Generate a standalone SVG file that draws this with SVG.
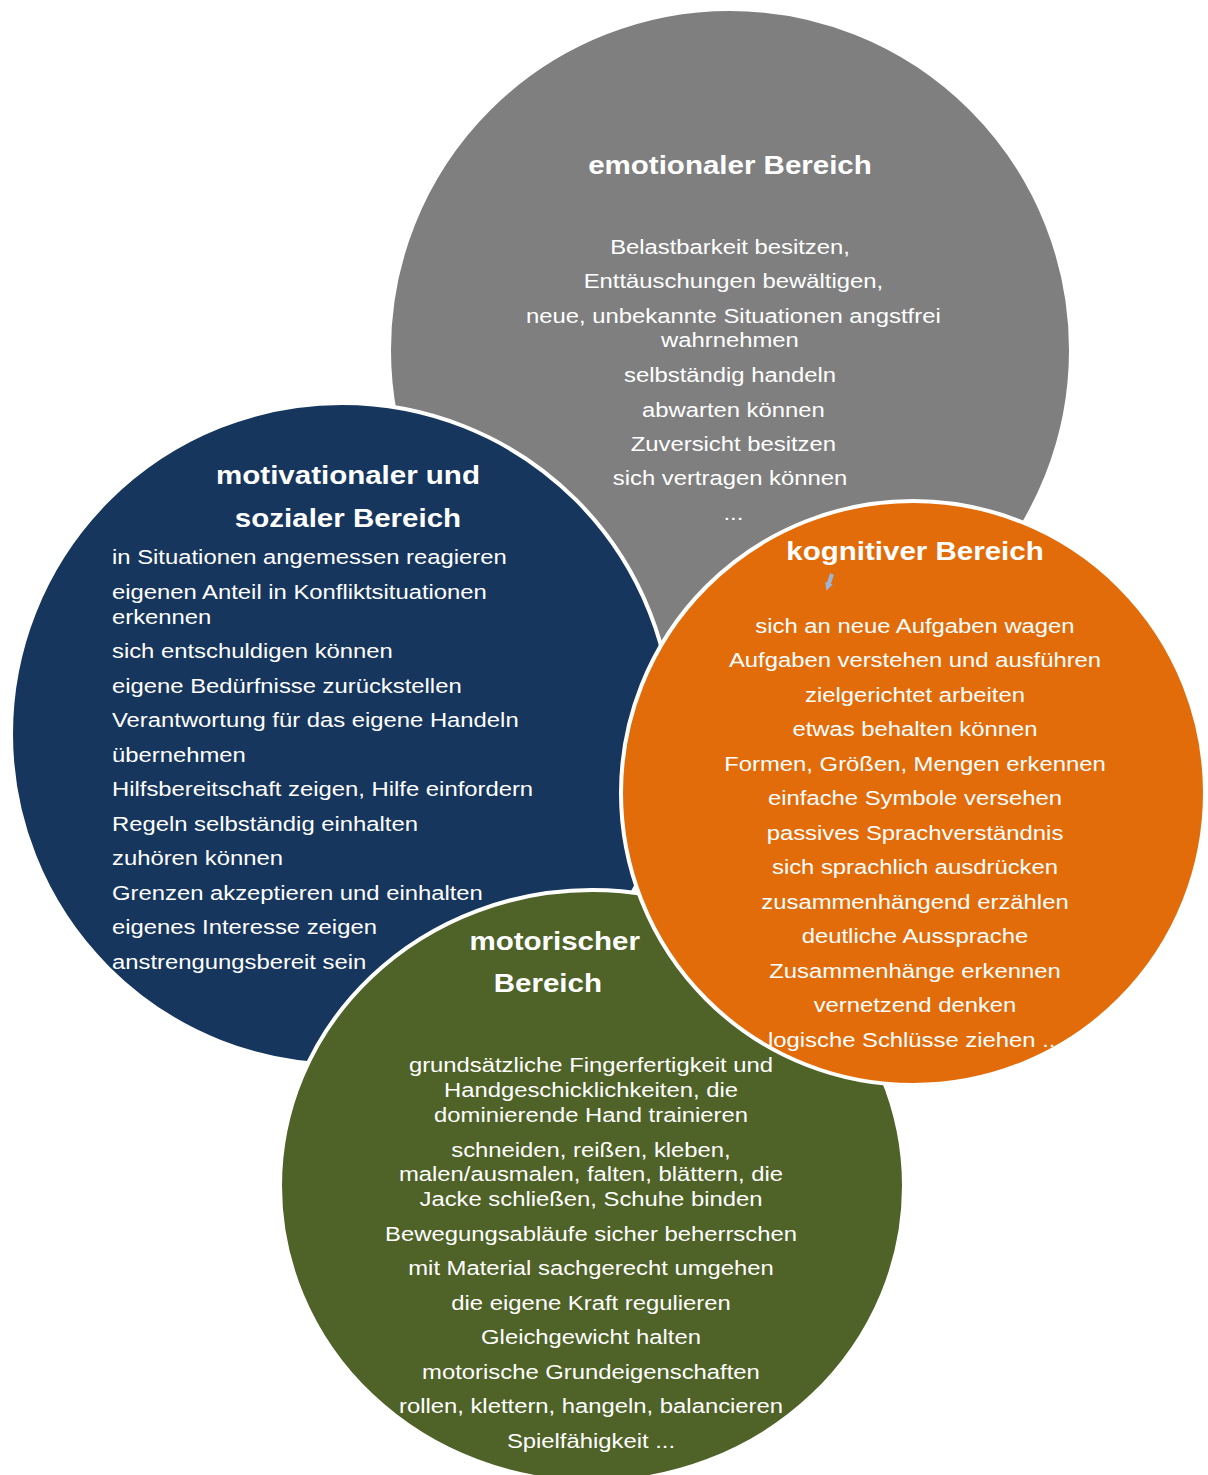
<svg xmlns="http://www.w3.org/2000/svg" width="1208" height="1475" viewBox="0 0 1208 1475">
<style>
.c{stroke:#fff;stroke-width:4}
.t{font-family:"Liberation Sans",Arial,sans-serif;font-size:26px;font-weight:bold;fill:#fff;text-anchor:middle}
.b{font-family:"Liberation Sans",Arial,sans-serif;font-size:21px;fill:#fff;text-anchor:middle}
.l{text-anchor:start}
</style>
<defs>
<marker id="ah" markerWidth="8" markerHeight="8" refX="3" refY="4" orient="auto" markerUnits="userSpaceOnUse"><path d="M0,0 L8,4 L0,8 z" fill="#9db5d6"/></marker>
</defs>
<rect width="1208" height="1475" fill="#fff"/>
<g id="emotional">
<circle class="c" cx="730" cy="350" r="341" fill="#7f7f7f"/>
<g transform="translate(730,0) scale(1.135,1) translate(-730,0)">
<text class="t" x="730" y="174">emotionaler Bereich</text>
<text class="b" x="730" y="254">Belastbarkeit besitzen,</text>
<text class="b" x="733" y="288">Enttäuschungen bewältigen,</text>
<text class="b" x="733" y="323">neue, unbekannte Situationen angstfrei</text>
<text class="b" x="730" y="347">wahrnehmen</text>
<text class="b" x="730" y="382">selbständig handeln</text>
<text class="b" x="733" y="417">abwarten können</text>
<text class="b" x="733" y="451">Zuversicht besitzen</text>
<text class="b" x="730" y="485">sich vertragen können</text>
<text class="b" x="733" y="520">...</text>
</g>
</g>
<g id="motivational">
<circle class="c" cx="342" cy="734" r="331" fill="#17365d"/>
<g transform="translate(348,0) scale(1.135,1) translate(-348,0)">
<text class="t" x="348" y="484">motivationaler und</text>
<text class="t" x="348" y="527">sozialer Bereich</text>
</g>
<g transform="translate(112,0) scale(1.135,1) translate(-112,0)">
<text class="b l" x="112" y="564">in Situationen angemessen reagieren</text>
<text class="b l" x="112" y="599">eigenen Anteil in Konfliktsituationen</text>
<text class="b l" x="112" y="624">erkennen</text>
<text class="b l" x="112" y="658">sich entschuldigen können</text>
<text class="b l" x="112" y="693">eigene Bedürfnisse zurückstellen</text>
<text class="b l" x="112" y="727">Verantwortung für das eigene Handeln</text>
<text class="b l" x="112" y="762">übernehmen</text>
<text class="b l" x="112" y="796">Hilfsbereitschaft zeigen, Hilfe einfordern</text>
<text class="b l" x="112" y="831">Regeln selbständig einhalten</text>
<text class="b l" x="112" y="865">zuhören können</text>
<text class="b l" x="112" y="900">Grenzen akzeptieren und einhalten</text>
<text class="b l" x="112" y="934">eigenes Interesse zeigen</text>
<text class="b l" x="112" y="969">anstrengungsbereit sein</text>
</g>
</g>
<g id="motorisch">
<ellipse class="c" cx="592" cy="1186" rx="312" ry="296" fill="#4f6228"/>
<g transform="translate(591,0) scale(1.135,1) translate(-591,0)">
<text class="t" x="559" y="950">motorischer</text>
<text class="t" x="553" y="992">Bereich</text>
<text class="b" x="591" y="1072">grundsätzliche Fingerfertigkeit und</text>
<text class="b" x="591" y="1097">Handgeschicklichkeiten, die</text>
<text class="b" x="591" y="1122">dominierende Hand trainieren</text>
<text class="b" x="591" y="1157">schneiden, reißen, kleben,</text>
<text class="b" x="591" y="1181">malen/ausmalen, falten, blättern, die</text>
<text class="b" x="591" y="1206">Jacke schließen, Schuhe binden</text>
<text class="b" x="591" y="1241">Bewegungsabläufe sicher beherrschen</text>
<text class="b" x="591" y="1275">mit Material sachgerecht umgehen</text>
<text class="b" x="591" y="1310">die eigene Kraft regulieren</text>
<text class="b" x="591" y="1344">Gleichgewicht halten</text>
<text class="b" x="591" y="1379">motorische Grundeigenschaften</text>
<text class="b" x="591" y="1413">rollen, klettern, hangeln, balancieren</text>
<text class="b" x="591" y="1448">Spielfähigkeit ...</text>
</g>
</g>
<g id="kognitiv">
<circle class="c" cx="913" cy="793" r="292" fill="#e36c0a"/>
<g transform="translate(915,0) scale(1.135,1) translate(-915,0)">
<text class="t" x="915" y="560">kognitiver Bereich</text>
<text class="b" x="915" y="633">sich an neue Aufgaben wagen</text>
<text class="b" x="915" y="667">Aufgaben verstehen und ausführen</text>
<text class="b" x="915" y="702">zielgerichtet arbeiten</text>
<text class="b" x="915" y="736">etwas behalten können</text>
<text class="b" x="915" y="771">Formen, Größen, Mengen erkennen</text>
<text class="b" x="915" y="805">einfache Symbole versehen</text>
<text class="b" x="915" y="840">passives Sprachverständnis</text>
<text class="b" x="915" y="874">sich sprachlich ausdrücken</text>
<text class="b" x="915" y="909">zusammenhängend erzählen</text>
<text class="b" x="915" y="943">deutliche Aussprache</text>
<text class="b" x="915" y="978">Zusammenhänge erkennen</text>
<text class="b" x="915" y="1012">vernetzend denken</text>
<text class="b" x="915" y="1047">logische Schlüsse ziehen ...</text>
</g>
</g>
<g id="connectors">
<line x1="832" y1="574" x2="828" y2="586" stroke="#9db5d6" stroke-width="4" marker-end="url(#ah)"/>
</g>
</svg>
